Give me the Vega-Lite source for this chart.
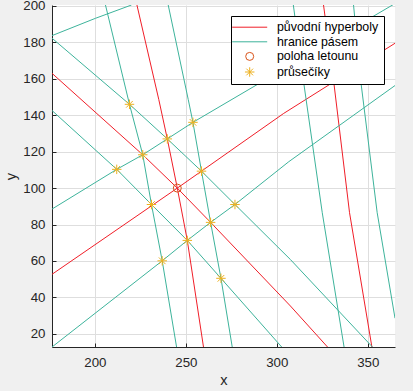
{
  "$schema": "https://vega.github.io/schema/vega-lite/v6.json",
  "autosize": "none",
  "width": 343,
  "height": 342,
  "padding": {"left": 52, "top": 5, "right": 18, "bottom": 44},
  "background": "#f0f0f0",
  "config": {
    "view": {"fill": "white", "stroke": null},
    "font": "Liberation Sans",
    "axis": {
      "domainColor": "#262626",
      "tickColor": "#262626",
      "labelColor": "#262626",
      "titleColor": "#262626",
      "labelFont": "Liberation Sans",
      "titleFont": "Liberation Sans",
      "labelFontSize": 13.3,
      "titleFontSize": 14.6,
      "titleFontWeight": "normal",
      "gridColor": "#dedede",
      "gridWidth": 1,
      "tickSize": -4,
      "domainWidth": 1
    }
  },
  "datasets": {
    "lines": [
      {"id": "R1", "typ": "původní hyperboly", "i": 0, "x": 176.4, "y": 163.0},
      {"id": "R1", "typ": "původní hyperboly", "i": 1, "x": 226.3, "y": 118.3},
      {"id": "R1", "typ": "původní hyperboly", "i": 2, "x": 245.3, "y": 100.0},
      {"id": "R1", "typ": "původní hyperboly", "i": 3, "x": 263.6, "y": 81.2},
      {"id": "R1", "typ": "původní hyperboly", "i": 4, "x": 307.5, "y": 35.3},
      {"id": "R1", "typ": "původní hyperboly", "i": 5, "x": 327.9, "y": 12.8},
      {"id": "R2", "typ": "původní hyperboly", "i": 0, "x": 176.4, "y": 52.7},
      {"id": "R2", "typ": "původní hyperboly", "i": 1, "x": 245.3, "y": 100.0},
      {"id": "R2", "typ": "původní hyperboly", "i": 2, "x": 303.8, "y": 141.0},
      {"id": "R2", "typ": "původní hyperboly", "i": 3, "x": 365.0, "y": 179.5},
      {"id": "R3", "typ": "původní hyperboly", "i": 0, "x": 223.1, "y": 200.5},
      {"id": "R3", "typ": "původní hyperboly", "i": 1, "x": 235.1, "y": 148.7},
      {"id": "R3", "typ": "původní hyperboly", "i": 2, "x": 239.8, "y": 127.0},
      {"id": "R3", "typ": "původní hyperboly", "i": 3, "x": 245.3, "y": 100.0},
      {"id": "R3", "typ": "původní hyperboly", "i": 4, "x": 250.8, "y": 71.3},
      {"id": "R3", "typ": "původní hyperboly", "i": 5, "x": 259.7, "y": 12.8},
      {"id": "R4", "typ": "původní hyperboly", "i": 0, "x": 325.7, "y": 200.5},
      {"id": "R4", "typ": "původní hyperboly", "i": 1, "x": 331.2, "y": 159.3},
      {"id": "R4", "typ": "původní hyperboly", "i": 2, "x": 340.0, "y": 86.5},
      {"id": "R4", "typ": "původní hyperboly", "i": 3, "x": 352.3, "y": 12.8},
      {"id": "DU", "typ": "hranice pásem", "i": 0, "x": 176.4, "y": 182.3},
      {"id": "DU", "typ": "hranice pásem", "i": 1, "x": 219.0, "y": 146.0},
      {"id": "DU", "typ": "hranice pásem", "i": 2, "x": 239.8, "y": 127.0},
      {"id": "DU", "typ": "hranice pásem", "i": 3, "x": 258.6, "y": 109.3},
      {"id": "DU", "typ": "hranice pásem", "i": 4, "x": 277.0, "y": 91.0},
      {"id": "DU", "typ": "hranice pásem", "i": 5, "x": 307.5, "y": 60.8},
      {"id": "DU", "typ": "hranice pásem", "i": 6, "x": 352.6, "y": 12.8},
      {"id": "DL", "typ": "hranice pásem", "i": 0, "x": 176.4, "y": 142.6},
      {"id": "DL", "typ": "hranice pásem", "i": 1, "x": 212.0, "y": 110.3},
      {"id": "DL", "typ": "hranice pásem", "i": 2, "x": 231.1, "y": 91.0},
      {"id": "DL", "typ": "hranice pásem", "i": 3, "x": 250.8, "y": 71.3},
      {"id": "DL", "typ": "hranice pásem", "i": 4, "x": 269.3, "y": 50.5},
      {"id": "DL", "typ": "hranice pásem", "i": 5, "x": 302.7, "y": 12.8},
      {"id": "UU", "typ": "hranice pásem", "i": 0, "x": 176.4, "y": 88.5},
      {"id": "UU", "typ": "hranice pásem", "i": 1, "x": 212.0, "y": 110.3},
      {"id": "UU", "typ": "hranice pásem", "i": 2, "x": 226.3, "y": 118.3},
      {"id": "UU", "typ": "hranice pásem", "i": 3, "x": 239.8, "y": 127.0},
      {"id": "UU", "typ": "hranice pásem", "i": 4, "x": 253.9, "y": 136.1},
      {"id": "UU", "typ": "hranice pásem", "i": 5, "x": 364.5, "y": 201.0},
      {"id": "UL", "typ": "hranice pásem", "i": 0, "x": 176.4, "y": 12.8},
      {"id": "UL", "typ": "hranice pásem", "i": 1, "x": 237.0, "y": 60.1},
      {"id": "UL", "typ": "hranice pásem", "i": 2, "x": 250.8, "y": 71.3},
      {"id": "UL", "typ": "hranice pásem", "i": 3, "x": 263.6, "y": 81.2},
      {"id": "UL", "typ": "hranice pásem", "i": 4, "x": 277.0, "y": 91.0},
      {"id": "UL", "typ": "hranice pásem", "i": 5, "x": 306.6, "y": 114.5},
      {"id": "UL", "typ": "hranice pásem", "i": 6, "x": 365.0, "y": 156.3},
      {"id": "SL", "typ": "hranice pásem", "i": 0, "x": 205.8, "y": 200.5},
      {"id": "SL", "typ": "hranice pásem", "i": 1, "x": 219.0, "y": 146.0},
      {"id": "SL", "typ": "hranice pásem", "i": 2, "x": 226.3, "y": 118.3},
      {"id": "SL", "typ": "hranice pásem", "i": 3, "x": 231.1, "y": 91.0},
      {"id": "SL", "typ": "hranice pásem", "i": 4, "x": 237.0, "y": 60.1},
      {"id": "SL", "typ": "hranice pásem", "i": 5, "x": 244.9, "y": 12.8},
      {"id": "SR", "typ": "hranice pásem", "i": 0, "x": 240.3, "y": 200.5},
      {"id": "SR", "typ": "hranice pásem", "i": 1, "x": 251.3, "y": 148.7},
      {"id": "SR", "typ": "hranice pásem", "i": 2, "x": 253.9, "y": 136.1},
      {"id": "SR", "typ": "hranice pásem", "i": 3, "x": 258.6, "y": 109.3},
      {"id": "SR", "typ": "hranice pásem", "i": 4, "x": 263.6, "y": 81.2},
      {"id": "SR", "typ": "hranice pásem", "i": 5, "x": 269.3, "y": 50.5},
      {"id": "SR", "typ": "hranice pásem", "i": 6, "x": 275.5, "y": 12.8},
      {"id": "A1", "typ": "hranice pásem", "i": 0, "x": 176.4, "y": 183.7},
      {"id": "A1", "typ": "hranice pásem", "i": 1, "x": 200.3, "y": 193.2},
      {"id": "A1", "typ": "hranice pásem", "i": 2, "x": 220.1, "y": 200.5},
      {"id": "T1", "typ": "hranice pásem", "i": 0, "x": 309.1, "y": 200.5},
      {"id": "T1", "typ": "hranice pásem", "i": 1, "x": 314.6, "y": 159.3},
      {"id": "T1", "typ": "hranice pásem", "i": 2, "x": 325.0, "y": 86.5},
      {"id": "T1", "typ": "hranice pásem", "i": 3, "x": 337.0, "y": 12.8},
      {"id": "T2", "typ": "hranice pásem", "i": 0, "x": 342.2, "y": 200.5},
      {"id": "T2", "typ": "hranice pásem", "i": 1, "x": 346.1, "y": 159.3},
      {"id": "T2", "typ": "hranice pásem", "i": 2, "x": 355.2, "y": 86.5},
      {"id": "T2", "typ": "hranice pásem", "i": 3, "x": 365.0, "y": 28.6}
    ],
    "pts": [
      {"typ": "poloha letounu", "x": 245.3, "y": 100.0},
      {"typ": "průsečíky", "x": 219.0, "y": 146.0},
      {"typ": "průsečíky", "x": 239.8, "y": 127.0},
      {"typ": "průsečíky", "x": 253.9, "y": 136.1},
      {"typ": "průsečíky", "x": 226.3, "y": 118.3},
      {"typ": "průsečíky", "x": 212.0, "y": 110.3},
      {"typ": "průsečíky", "x": 258.6, "y": 109.3},
      {"typ": "průsečíky", "x": 231.1, "y": 91.0},
      {"typ": "průsečíky", "x": 250.8, "y": 71.3},
      {"typ": "průsečíky", "x": 237.0, "y": 60.1},
      {"typ": "průsečíky", "x": 263.6, "y": 81.2},
      {"typ": "průsečíky", "x": 277.0, "y": 91.0},
      {"typ": "průsečíky", "x": 269.3, "y": 50.5}
    ]
  },
  "encoding": {
    "x": {
      "field": "x", "type": "quantitative",
      "scale": {"domain": [176.4, 365.0], "nice": false, "zero": false},
      "axis": {"values": [200, 250, 300, 350], "title": "x", "labelPadding": 12, "titlePadding": 4}
    },
    "y": {
      "field": "y", "type": "quantitative",
      "scale": {"domain": [12.8, 200.5], "nice": false, "zero": false},
      "axis": {"values": [20, 40, 60, 80, 100, 120, 140, 160, 180, 200], "title": "y", "labelPadding": 11, "titlePadding": 4}
    },
    "color": {
      "field": "typ", "type": "nominal",
      "scale": {
        "domain": ["původní hyperboly", "hranice pásem", "poloha letounu", "průsečíky"],
        "range": ["#f01e28", "#3db39b", "#d95319", "#edb120"]
      },
      "legend": {
        "title": null,
        "orient": "top-right",
        "offset": 11,
        "fillColor": "white",
        "strokeColor": "black",
        "padding": 5,
        "symbolOffset": 7.5,
        "labelOffset": 21,
        "labelFont": "Liberation Sans",
        "labelFontSize": 12.4,
        "labelColor": "black",
        "rowPadding": 1.6,
        "symbolSize": 100,
        "symbolStrokeWidth": 1,
        "encode": {
          "symbols": {
            "update": {
              "size": {"signal": "datum.value === 'poloha letounu' ? 64 : (datum.value === 'průsečíky' ? 90 : 100)"}
            }
          }
        }
      }
    }
  },
  "layer": [
    {
      "data": {"name": "lines"},
      "transform": [{"filter": "datum.typ === 'původní hyperboly'"}],
      "mark": {"type": "line", "clip": true, "strokeWidth": 1},
      "encoding": {"detail": {"field": "id"}, "order": {"field": "i", "type": "quantitative"}}
    },
    {
      "data": {"name": "lines"},
      "transform": [{"filter": "datum.typ === 'hranice pásem'"}],
      "mark": {"type": "line", "clip": true, "strokeWidth": 1},
      "encoding": {"detail": {"field": "id"}, "order": {"field": "i", "type": "quantitative"}}
    },
    {
      "data": {"name": "pts"},
      "mark": {"type": "point", "filled": false, "strokeWidth": 1, "opacity": 1, "clip": true},
      "encoding": {
        "shape": {
          "field": "typ", "type": "nominal",
          "scale": {
            "domain": ["původní hyperboly", "hranice pásem", "poloha letounu", "průsečíky"],
            "range": ["M-3.5,0H3.5", "M-3.5,0H3.5", "circle", "M-1,0H1M0,-1V1M-0.7,-0.7L0.7,0.7M-0.7,0.7L0.7,-0.7"]
          }
        },
        "size": {"condition": {"test": "datum.typ === 'poloha letounu'", "value": 64}, "value": 90}
      }
    }
  ]
}
